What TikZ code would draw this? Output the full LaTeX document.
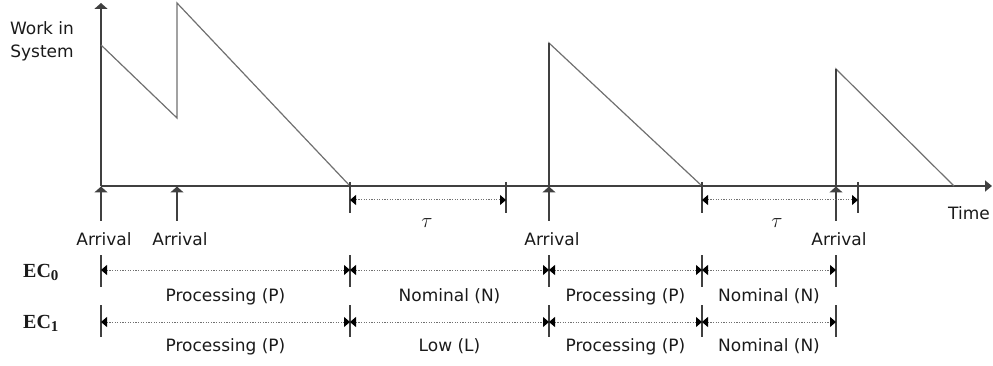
\documentclass[tikz,border=0pt]{standalone}
\usepackage{fontspec}
\setmainfont{DejaVu Sans}
\newfontfamily\ecfont{Liberation Serif}
\usetikzlibrary{arrows.meta}
\definecolor{axisgray}{HTML}{404040}
\definecolor{curvegray}{HTML}{707070}
\definecolor{dotgray}{HTML}{707070}
\definecolor{txt}{HTML}{1A1A1A}
\begin{document}
\begin{tikzpicture}[x=1pt,y=-1pt,
  font=\fontsize{17}{20}\selectfont, text=txt,
  axisline/.style={draw=axisgray, line width=1.6pt},
  curveline/.style={draw=curvegray, line width=1.2pt},
  barline/.style={draw=axisgray, line width=1.2pt},
  arrline/.style={draw=axisgray, line width=1.3pt, -{Triangle[width=13pt,length=6pt]}},
  dimline/.style={draw=dotgray, line width=1pt, dash pattern=on 1.3pt off 1.3pt,
     {Triangle[width=10pt,length=6pt,color=black]}-{Triangle[width=10pt,length=6pt,color=black]}},
  lbl/.style={inner sep=0pt, anchor=base},
  eclbl/.style={inner sep=0pt, anchor=base west}]
\useasboundingbox (0,0) rectangle (993,366);

% axes
\coordinate (O) at (101,186);
\coordinate (Ytop) at (101,3);
\coordinate (Xend) at (992,186);
\draw[axisline,-{Triangle[width=13pt,length=6pt]}] (O) -- (Ytop);
\draw[axisline,-{Triangle[width=11pt,length=7pt]}] (O) -- (Xend);

\node[lbl] (wis1) at (42,35) {Work in};
\node[lbl] (wis2) at (42,58) {System};
\node[lbl] (time) at (969,220) {Time};

% work curve
\draw[curveline] (101,45) -- (177,118) -- (177,3) -- (350,186);
\draw[curveline] (549,186) -- (549,43) -- (702,186);
\draw[curveline] (836,186) -- (836,69) -- (954,186);
\draw[axisline, line width=1.3pt] (549,186) -- (549,43);
\draw[axisline, line width=1.3pt] (836,186) -- (836,69);

% arrivals
\foreach \x/\n in {101/a0,177/a1,549/a2,836/a3}{
  \coordinate (\n b) at (\x,221);
  \coordinate (\n t) at (\x,186.5);
  \draw[arrline] (\n b) -- (\n t);
  \node[lbl] (\n lbl) at (\x+3,245) {Arrival};
}

% tau intervals
\foreach \xa/\xb/\n in {350/506/t1,702/858/t2}{
  \coordinate (\n a) at (\xa,200);
  \coordinate (\n b) at (\xb,200);
  \draw[barline] (\xa,182) -- (\xa,213);
  \draw[barline] (\xb,182) -- (\xb,213);
  \draw[dimline] (\n a) -- (\n b);
}
\node[lbl] (tau1) at (427,227) {\fontsize{20}{22}\selectfont$\tau$};
\node[lbl] (tau2) at (777,227) {\fontsize{20}{22}\selectfont$\tau$};

% EC rows
\node[eclbl] (ec0) at (23,277) {\ecfont\bfseries\fontsize{20}{22}\selectfont EC\raisebox{-3pt}{\fontsize{15}{16}\selectfont 0}};
\node[eclbl] (ec1) at (23,328) {\ecfont\bfseries\fontsize{20}{22}\selectfont EC\raisebox{-3pt}{\fontsize{15}{16}\selectfont 1}};

\foreach \x in {101,350,549,702,836}{
  \draw[barline] (\x,255) -- (\x,287);
  \draw[barline] (\x,305) -- (\x,337);
}
\foreach \xa/\xb/\la/\lb/\n in {101/350/Processing (P)/Processing (P)/s1,
                                350/549/Nominal (N)/Low (L)/s2,
                                549/702/Processing (P)/Processing (P)/s3,
                                702/836/Nominal (N)/Nominal (N)/s4}{
  \coordinate (\n a0) at (\xa,270);
  \coordinate (\n b0) at (\xb,270);
  \coordinate (\n a1) at (\xa,322);
  \coordinate (\n b1) at (\xb,322);
  \draw[dimline] (\n a0) -- (\n b0);
  \draw[dimline] (\n a1) -- (\n b1);
  \node[lbl] (\n l0) at ({(\xa+\xb)/2},301) {\la};
  \node[lbl] (\n l1) at ({(\xa+\xb)/2},351) {\lb};
}
\end{tikzpicture}
\end{document}
